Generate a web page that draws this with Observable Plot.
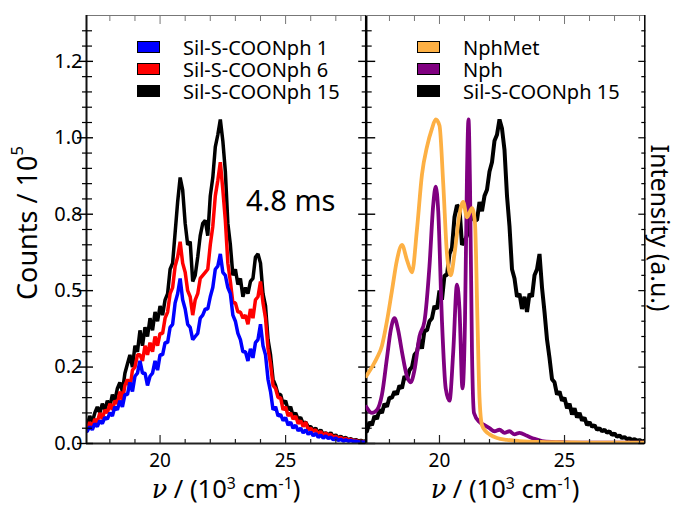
<!DOCTYPE html>
<html><head><meta charset="utf-8">
<script src="https://cdn.jsdelivr.net/npm/d3@7"></script>
<script src="https://cdn.jsdelivr.net/npm/@observablehq/plot@0.6"></script>
<style>
body{margin:0;background:#fff;}
#wrap{position:relative;width:676px;height:505px;font-family:"Noto Sans",sans-serif;color:#000;overflow:hidden;}
#wrap svg{position:absolute;left:0;top:0;}
.lbl{position:absolute;white-space:nowrap;}
.vert{writing-mode:vertical-rl;}
.sw{position:absolute;box-sizing:border-box;border:1px solid #000;width:23px;height:12px;}
sup{font-size:0.62em;vertical-align:0.55em;line-height:0;}
.nu{font-family:"DejaVu Serif",serif;font-style:italic;}
</style></head><body><div id="wrap"></div>
<script>
// ---------- data ----------
const nu = [17.1,17.2,17.3,17.4,17.5,17.6,17.7,17.8,17.9,
18.0,18.1,18.2,18.3,18.4,18.5,18.6,18.7,18.8,18.9,
19.0,19.1,19.2,19.3,19.4,19.5,19.6,19.7,19.8,19.9,
20.0,20.1,20.2,20.3,20.4,20.5,20.6,20.7,20.8,20.9,
21.0,21.1,21.2,21.3,21.4,21.5,21.6,21.7,21.8,21.9,
22.0,22.1,22.2,22.3,22.4,22.5,22.6,22.7,22.8,22.9,
23.0,23.1,23.2,23.3,23.4,23.5,23.6,23.7,23.8,23.9,
24.0,24.1,24.2,24.3,24.4,24.5,24.6,24.7,24.8,24.9,
25.0,25.1,25.2,25.3,25.4,25.5,25.6,25.7,25.8,25.9,
26.0,26.1,26.2,26.3,26.4,26.5,26.6,26.7,26.8,26.9,
27.0,27.1,27.2,27.3,27.4,27.5,27.6,27.7,27.8,27.9,
28.0,28.1,28.2];

const sil15Left = [0.06,0.09,0.07,0.10,0.12,0.10,0.13,0.11,0.14,
0.12,0.16,0.14,0.18,0.20,0.17,0.23,0.26,0.29,0.25,
0.32,0.30,0.37,0.32,0.38,0.35,0.41,0.37,0.43,0.40,
0.45,0.42,0.47,0.49,0.57,0.59,0.69,0.79,0.87,0.83,
0.72,0.65,0.66,0.53,0.55,0.61,0.68,0.72,0.73,0.68,
0.81,0.87,0.97,1.01,1.06,0.99,0.89,0.72,0.65,0.55,
0.57,0.52,0.54,0.48,0.51,0.49,0.53,0.54,0.61,0.62,
0.59,0.49,0.45,0.34,0.29,0.21,0.19,0.16,0.16,0.13,
0.14,0.11,0.12,0.09,0.10,0.08,0.085,0.065,0.07,0.055,
0.055,0.045,0.05,0.035,0.045,0.03,0.035,0.028,0.035,0.022,
0.028,0.018,0.024,0.016,0.02,0.012,0.016,0.01,0.013,0.008,
0.01,0.007,0.009];

const sil6 = [0.05,0.07,0.05,0.08,0.07,0.10,0.08,0.11,0.10,
0.13,0.11,0.14,0.13,0.17,0.14,0.19,0.21,0.18,0.24,
0.25,0.29,0.29,0.27,0.32,0.29,0.33,0.30,0.35,0.32,
0.36,0.36,0.41,0.43,0.49,0.51,0.58,0.61,0.66,0.59,
0.56,0.50,0.48,0.42,0.47,0.49,0.54,0.55,0.56,0.57,
0.65,0.71,0.81,0.86,0.92,0.83,0.73,0.59,0.53,0.46,
0.46,0.43,0.43,0.41,0.42,0.39,0.44,0.41,0.47,0.48,
0.53,0.46,0.41,0.31,0.26,0.19,0.18,0.15,0.15,0.11,
0.12,0.09,0.10,0.08,0.09,0.065,0.075,0.055,0.07,0.045,
0.05,0.04,0.045,0.03,0.04,0.025,0.035,0.025,0.03,0.02,
0.024,0.016,0.02,0.013,0.017,0.01,0.014,0.008,0.011,0.006,
0.008,0.005,0.006];

const sil1 = [0.04,0.055,0.045,0.065,0.055,0.075,0.065,0.085,0.08,
0.10,0.09,0.12,0.11,0.14,0.12,0.16,0.16,0.20,0.17,
0.22,0.23,0.27,0.23,0.23,0.19,0.22,0.23,0.27,0.24,
0.29,0.29,0.33,0.33,0.38,0.39,0.46,0.49,0.54,0.47,
0.44,0.39,0.38,0.34,0.35,0.36,0.41,0.42,0.44,0.44,
0.48,0.51,0.57,0.58,0.62,0.56,0.55,0.51,0.49,0.42,
0.40,0.36,0.34,0.30,0.30,0.27,0.31,0.28,0.33,0.34,
0.39,0.32,0.29,0.21,0.17,0.11,0.12,0.09,0.095,0.075,
0.085,0.06,0.07,0.05,0.06,0.042,0.05,0.035,0.045,0.03,
0.038,0.025,0.033,0.02,0.028,0.017,0.025,0.016,0.021,0.012,
0.018,0.01,0.014,0.008,0.012,0.007,0.01,0.006,0.008,0.005,
0.006,0.004,0.005];

const sil15Right = [0.04,0.07,0.06,0.09,0.08,0.11,0.10,0.13,0.12,
0.15,0.15,0.17,0.16,0.19,0.18,0.22,0.21,0.24,0.25,
0.29,0.30,0.34,0.31,0.37,0.37,0.40,0.41,0.45,0.44,
0.50,0.47,0.55,0.55,0.62,0.64,0.74,0.78,0.77,0.65,
0.66,0.68,0.75,0.74,0.73,0.73,0.79,0.76,0.81,0.83,
0.89,0.92,0.99,1.01,1.06,1.03,0.96,0.81,0.71,0.57,
0.54,0.48,0.49,0.44,0.48,0.43,0.49,0.48,0.55,0.57,
0.62,0.51,0.43,0.34,0.28,0.21,0.20,0.16,0.17,0.14,
0.15,0.115,0.13,0.095,0.115,0.085,0.10,0.075,0.085,0.06,
0.07,0.055,0.06,0.045,0.05,0.04,0.045,0.035,0.04,0.028,
0.033,0.022,0.026,0.018,0.021,0.014,0.017,0.011,0.014,0.009,
0.011,0.007,0.009];

const nphMetNu = [17.07,17.3,17.5,17.7,17.9,18.1,18.3,18.5,18.7,18.9,19.1,19.3,19.5,19.7,19.85,20.0,20.15,20.3,20.45,20.6,20.8,20.95,21.1,21.3,21.42,21.52,21.6,21.7,21.85,22.0,22.3,22.7,23.2,24.0,25.0,26.0,27.0,28.2];
const nphMetI = [0.22,0.25,0.28,0.32,0.40,0.50,0.60,0.65,0.60,0.56,0.70,0.88,0.97,1.03,1.06,1.04,0.85,0.62,0.55,0.62,0.75,0.79,0.74,0.77,0.72,0.40,0.15,0.06,0.04,0.03,0.018,0.012,0.008,0.005,0.004,0.003,0.003,0.003];

const nphNu = [17.07,17.3,17.5,17.7,17.9,18.05,18.2,18.35,18.5,18.7,18.85,19.0,19.2,19.4,19.6,19.75,19.85,19.95,20.1,20.25,20.4,20.55,20.7,20.8,20.92,21.02,21.1,21.16,21.22,21.3,21.38,21.6,21.8,22.0,22.2,22.4,22.6,22.8,23.0,23.2,23.5,23.8,24.1,24.5,25.0,26.0,27.0,28.2];
const nphI = [0.12,0.10,0.11,0.16,0.28,0.37,0.41,0.37,0.30,0.22,0.20,0.24,0.35,0.40,0.58,0.78,0.84,0.76,0.40,0.18,0.14,0.30,0.52,0.44,0.18,0.40,0.88,1.06,0.85,0.30,0.10,0.07,0.06,0.05,0.04,0.045,0.035,0.04,0.03,0.035,0.025,0.015,0.008,0.005,0.004,0.003,0.003,0.003];

const leftLegend = ["Sil-S-COONph 1","Sil-S-COONph 6","Sil-S-COONph 15"];
const leftColors = ["#0000ff","#ff0000","#000000"];
const rightLegend = ["NphMet","Nph","Sil-S-COONph 15"];
const rightColors = ["#fdb044","#800080","#000000"];

const yMajor = [0,0.25,0.5,0.75,1.0,1.25];
const yTickLabels = ["0.0","0.2","0.5","0.8","1.0","1.2"];
const xMajor = [20,25];
const xTickLabels = ["20","25"];
const xMinor = [18,19,21,22,23,24,26,27,28];
const timeLabel = "4.8 ms";

// ---------- layout ----------
const W = 676, H = 505;
const X_DOMAIN = [17.07, 28.21];
const Y_DOMAIN = [0, 1.4];
const TOP = 15, BOTTOM = 443, LEFT = 86, MID = 365.7, RIGHT = 644.3;
const FONT = '"Noto Sans", sans-serif';
const yMinor = d3.range(0.05, 1.39, 0.05).filter(v => !yMajor.some(m => Math.abs(m - v) < 1e-6));
const blank = () => "";

const leftRows = nu.map((v, i) => ({nu: v, s1: sil1[i], s6: sil6[i], s15: sil15Left[i]}));
const rightRows = nu.map((v, i) => ({nu: v, s15: sil15Right[i]}));
const metRows = nphMetNu.map((v, i) => ({nu: v, I: nphMetI[i]}));
const nphRows = nphNu.map((v, i) => ({nu: v, I: nphI[i]}));

function frameMarks(isLeft) {
  const m = [
    Plot.ruleY([Y_DOMAIN[1]], {stroke: "#777", strokeWidth: 1}),
    Plot.ruleY([0], {stroke: "#222", strokeWidth: 2}),
    Plot.axisX(xMajor, {anchor: "top", tickSize: 8, dy: 8, stroke: "#777", tickFormat: blank, label: null}),
    Plot.axisX(xMinor, {anchor: "top", tickSize: 5, dy: 5, stroke: "#777", tickFormat: blank, label: null}),
    Plot.axisX(xMajor, {anchor: "bottom", tickSize: 8, dy: -8, stroke: "#222", strokeWidth: 1.2, tickFormat: blank, label: null}),
    Plot.axisX(xMinor, {anchor: "bottom", tickSize: 4, dy: -4, stroke: "#222", strokeWidth: 1.2, tickFormat: blank, label: null}),
    Plot.axisX(xMajor, {anchor: "bottom", tickSize: 0, tickPadding: 10, fontSize: 19, label: null,
      tickFormat: d => xTickLabels[xMajor.indexOf(d)]})
  ];
  if (isLeft) {
    m.push(
      Plot.ruleX([X_DOMAIN[0]], {stroke: "#111", strokeWidth: 2}),
      Plot.ruleX([X_DOMAIN[1]], {stroke: "#000", strokeWidth: 2.5}),
      Plot.axisY(yMajor, {anchor: "left", tickSize: 16, dx: 7, strokeWidth: 1.4, tickFormat: blank, label: null}),
      Plot.axisY(yMinor, {anchor: "left", tickSize: 10, dx: 6, strokeWidth: 1.2, tickFormat: blank, label: null}),
      Plot.axisY(yMajor, {anchor: "right", tickSize: 17, dx: -8.5, strokeWidth: 1.4, tickFormat: blank, label: null}),
      Plot.axisY(yMinor, {anchor: "right", tickSize: 10, dx: -5, strokeWidth: 1.2, tickFormat: blank, label: null}),
      Plot.axisY(yMajor, {anchor: "left", tickSize: 0, tickPadding: 4, fontSize: 20, label: null,
        tickFormat: d => yTickLabels[yMajor.indexOf(d)]})
    );
  } else {
    m.push(
      Plot.ruleX([X_DOMAIN[1]], {stroke: "#000", strokeWidth: 1.5}),
      Plot.axisY(yMajor, {anchor: "right", tickSize: 7, dx: -7, strokeWidth: 1.2, tickFormat: blank, label: null}),
      Plot.axisY(yMinor, {anchor: "right", tickSize: 4, dx: -4, strokeWidth: 1.2, tickFormat: blank, label: null})
    );
  }
  return m;
}

const common = {
  width: W, height: H, marginTop: TOP, marginBottom: H - BOTTOM,
  x: {domain: X_DOMAIN, label: null},
  y: {domain: Y_DOMAIN, label: null},
  style: {fontFamily: FONT, background: "transparent", color: "#000", overflow: "visible"}
};

const leftPlot = Plot.plot({
  ...common, marginLeft: LEFT, marginRight: W - MID,
  marks: [
    Plot.line(leftRows, {x: "nu", y: "s15", stroke: leftColors[2], strokeWidth: 3.5, strokeLinejoin: "miter", clip: true}),
    Plot.line(leftRows, {x: "nu", y: "s6", stroke: leftColors[1], strokeWidth: 3.5, strokeLinejoin: "miter", clip: true}),
    Plot.line(leftRows, {x: "nu", y: "s1", stroke: leftColors[0], strokeWidth: 3.5, strokeLinejoin: "miter", clip: true}),
    ...frameMarks(true)
  ]
});

const rightPlot = Plot.plot({
  ...common, marginLeft: MID, marginRight: W - RIGHT,
  marks: [
    Plot.line(rightRows, {x: "nu", y: "s15", stroke: rightColors[2], strokeWidth: 4, strokeLinejoin: "miter", clip: true}),
    Plot.line(nphRows, {x: "nu", y: "I", stroke: rightColors[1], strokeWidth: 3.8, curve: "monotone-x", clip: true}),
    Plot.line(metRows, {x: "nu", y: "I", stroke: rightColors[0], strokeWidth: 3.8, curve: "monotone-x", clip: true}),
    ...frameMarks(false)
  ]
});

const wrap = document.getElementById("wrap");
wrap.appendChild(leftPlot);
wrap.appendChild(rightPlot);

function addLabel(html, cx, cy, size, vertical, flip) {
  const d = document.createElement("div");
  d.className = vertical ? "lbl vert" : "lbl";
  d.innerHTML = html;
  d.style.left = cx + "px";
  d.style.top = cy + "px";
  d.style.fontSize = size + "px";
  d.style.lineHeight = "1";
  d.style.transform = "translate(-50%,-50%)" + (flip ? " rotate(180deg)" : "");
  wrap.appendChild(d);
}
function addLegend(labels, colors, swX, textX, y0) {
  labels.forEach((t, i) => {
    const cy = y0 + 22 * i;
    const s = document.createElement("div");
    s.className = "sw";
    s.style.left = swX + "px";
    s.style.top = (cy - 6) + "px";
    s.style.background = colors[i];
    wrap.appendChild(s);
    const d = document.createElement("div");
    d.className = "lbl";
    d.textContent = t;
    d.style.left = textX + "px";
    d.style.top = (cy - 10.5) + "px";
    d.style.fontSize = "20px";
    d.style.lineHeight = "21px";
    wrap.appendChild(d);
  });
}
addLegend(leftLegend, leftColors, 137, 183, 47);
addLegend(rightLegend, rightColors, 417, 463, 47);

const t = document.createElement("div");
t.className = "lbl";
t.textContent = timeLabel;
t.style.left = "246px"; t.style.top = "183px";
t.style.fontSize = "29px"; t.style.lineHeight = "34px";
wrap.appendChild(t);

const xTitle = '<span class="nu">ν</span> / (10<sup>3</sup> cm<sup>-1</sup>)';
addLabel(xTitle, 226, 488.5, 25.5, false, false);
addLabel(xTitle, 505, 488.5, 25.5, false, false);
addLabel('Counts / 10<sup>5</sup>', 26, 223, 27, true, true);
addLabel('Intensity (a.u.)', 660, 228, 25, true, false);
</script></body></html>
